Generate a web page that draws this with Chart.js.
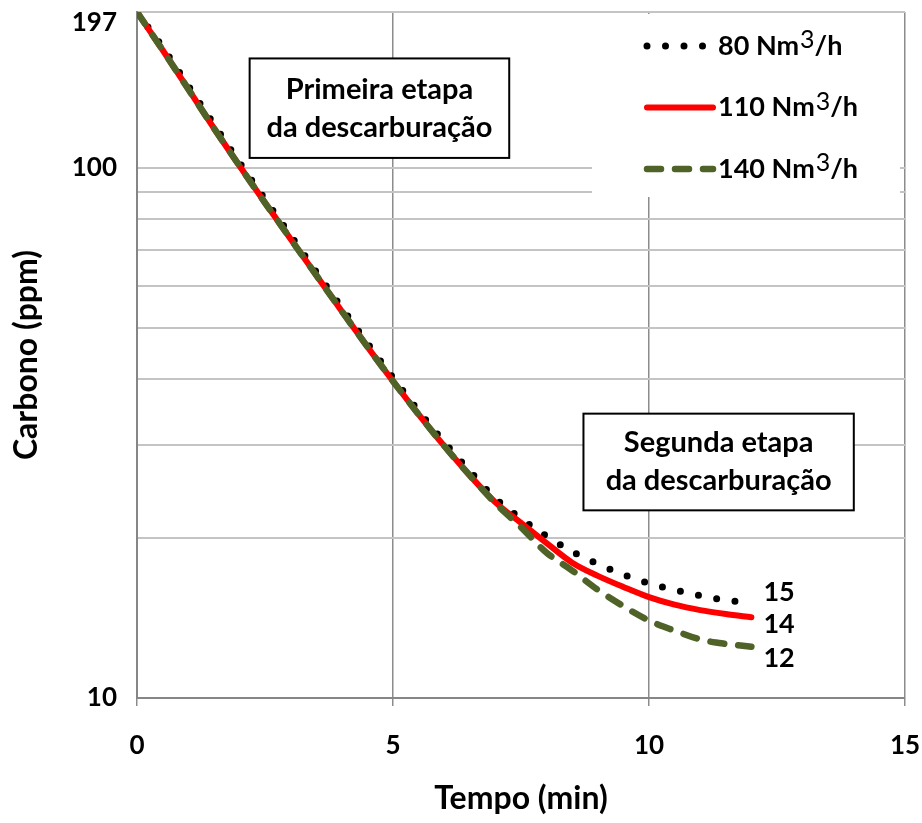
<!DOCTYPE html>
<html>
<head>
<meta charset="utf-8">
<script src="https://cdn.jsdelivr.net/npm/chart.js@4.4.1/dist/chart.umd.min.js"></script>
<style>
  html, body { margin: 0; padding: 0; background: #fff; }
  #wrap { width: 922px; height: 823px; position: relative; }
</style>
</head>
<body>
<div id="wrap"><canvas id="c"></canvas></div>
<script>
// time (min)
var TIME = [0, 0.5, 1, 1.5, 2, 2.5, 3, 3.5, 4, 4.5, 5, 5.5, 6, 6.5, 7, 7.5, 8, 8.5, 9, 9.5, 10, 10.5, 11, 11.5, 12]

// carbon (ppm) per gas flow
var C80  = [197, 169, 143, 121, 102.5, 87.3, 74.6, 63.7, 54.5, 46.7, 40.2, 34.8, 30.4, 26.8, 23.8, 21.8, 20.2, 18.9, 17.9, 17.1, 16.45, 16.0, 15.6, 15.3, 15.1]
var C110 = [197, 167, 141, 119, 101, 86, 73.5, 62.8, 53.7, 46, 39.6, 34.3, 29.9, 26.3, 23.4, 21.4, 19.6, 18.0, 17.0, 16.2, 15.5, 15.0, 14.65, 14.4, 14.2]
var C140 = [197, 167, 141, 119, 101, 86, 73.5, 62.8, 53.7, 46, 39.6, 34.3, 29.9, 26.3, 23.3, 21.0, 18.8, 17.4, 16.0, 14.9, 14.0, 13.4, 12.9, 12.65, 12.5]

var SERIES_NAMES = ["80", "110", "140"]
var END_LABELS   = ["15", "14", "12"]

var Y_TICKS  = [10, 20, 30, 40, 50, 60, 70, 80, 90, 100, 197]
var Y_LABELS = [10, 100, 197]
var X_TICKS  = [0, 5, 10, 15]

var NOTE_FIRST  = ["Primeira etapa", "da descarburação"]
var NOTE_SECOND = ["Segunda etapa", "da descarburação"]

var FONT = "Lato, 'Open Sans', sans-serif"

function points(ys) {
  return TIME.map(function(t, i) { return {x: t, y: ys[i]} })
}

var notes = {
  id: "notes",
  afterDraw: function(chart, args, opts) {
    var ctx = chart.ctx
      , xs  = chart.scales.x
      , ys  = chart.scales.y
      , ca  = chart.chartArea
    ctx.save()

    // boxed notes
    opts.boxes.forEach(function(b) {
      var l = xs.getPixelForValue(b.x0), r = xs.getPixelForValue(b.x1)
        , t = ys.getPixelForValue(b.y0), d = ys.getPixelForValue(b.y1)
      ctx.fillStyle = "#fff"
      ctx.fillRect(l, t, r - l, d - t)
      ctx.strokeStyle = "#000"
      ctx.lineWidth = 2
      ctx.strokeRect(l, t, r - l, d - t)
      ctx.fillStyle = "#000"
      ctx.font = "bold 29px " + FONT
      ctx.textAlign = "center"
      ctx.textBaseline = "middle"
      b.lines.forEach(function(s, i) {
        ctx.fillText(s, (l + r) / 2, (t + d) / 2 + (i - 0.5) * 38)
      })
    })

    // legend
    var lx = ca.right - 313, ly = ca.top + 2
    ctx.fillStyle = "#fff"
    ctx.fillRect(lx, ly, 308, 183)
    chart.data.datasets.forEach(function(ds, i) {
      var y = ly + 32 + i * 61.5
      ctx.save()
      ctx.strokeStyle = ds.borderColor
      ctx.lineWidth = ds.borderWidth
      ctx.lineCap = ds.borderCapStyle
      ctx.setLineDash(ds.borderDash || [])
      ctx.beginPath()
      ctx.moveTo(lx + 55, y)
      ctx.lineTo(lx + 121, y)
      ctx.stroke()
      ctx.restore()
      ctx.fillStyle = "#000"
      ctx.textAlign = "left"
      ctx.textBaseline = "middle"
      var x = lx + 126
      ctx.font = "bold 27px " + FONT
      var a = ds.label + " Nm"
      ctx.fillText(a, x, y)
      x += ctx.measureText(a).width
      ctx.font = "25px " + FONT
      ctx.fillText("3", x + 1, y - 6)
      x += ctx.measureText("3").width + 1
      ctx.font = "bold 27px " + FONT
      ctx.fillText("/h", x, y)
    })

    // end values
    ctx.font = "bold 27px " + FONT
    ctx.textAlign = "left"
    ctx.textBaseline = "middle"
    ctx.fillStyle = "#000"
    chart.data.datasets.forEach(function(ds, i) {
      var meta = chart.getDatasetMeta(i)
        , last = meta.data[meta.data.length - 1]
      ctx.fillText(END_LABELS[i], last.x + 12, last.y + opts.endDy[i])
    })
    ctx.restore()
  }
}

new Chart(document.getElementById("c"), {
  type: "line",
  data: {
    datasets: [
      { label: SERIES_NAMES[0], data: points(C80), borderColor: "#000000", borderWidth: 7
      , borderDash: [0, 18.5], borderCapStyle: "round", order: 3 },
      { label: SERIES_NAMES[1], data: points(C110), borderColor: "#ff0000", borderWidth: 6
      , borderCapStyle: "round", order: 2 },
      { label: SERIES_NAMES[2], data: points(C140), borderColor: "#4f6228", borderWidth: 6.5
      , borderDash: [14, 14], borderCapStyle: "round", order: 1 }
    ]
  },
  options: {
    responsive: true,
    maintainAspectRatio: false,
    animation: false,
    layout: { padding: { top: 12, right: 17, left: 0, bottom: 0 } },
    elements: {
      point: { radius: 0 },
      line: { cubicInterpolationMode: "monotone", fill: false }
    },
    plugins: {
      legend: { display: false },
      tooltip: { enabled: false },
      notes: {
        boxes: [
          { x0: 2.2, x1: 7.27, y0: 161, y1: 104.5, lines: NOTE_FIRST },
          { x0: 8.72, x1: 14.0, y0: 34.4, y1: 22.6, lines: NOTE_SECOND }
        ],
        endDy: [-11, 7, 12]
      }
    },
    scales: {
      x: {
        type: "linear",
        min: 0, max: 15,
        afterBuildTicks: function(s) { s.ticks = X_TICKS.map(function(v) { return {value: v} }) },
        afterFit: function(s) { s.height = 125; s.paddingLeft = 0; s.paddingRight = 0 },
        grid: { color: "#8c8c8c", lineWidth: 1.5, tickLength: 8 },
        border: { color: "#868686", width: 2 },
        ticks: { color: "#000", padding: 24, font: { family: FONT, size: 26, weight: "bold" } },
        title: {
          display: true, text: "Tempo (min)", color: "#000",
          padding: { top: 0, bottom: 5 },
          font: { family: FONT, size: 32, weight: "bold" }
        }
      },
      y: {
        type: "logarithmic",
        min: 10, max: 197,
        afterBuildTicks: function(s) { s.ticks = Y_TICKS.map(function(v) { return {value: v} }) },
        afterFit: function(s) { s.width = 137; s.paddingTop = 0; s.paddingBottom = 0 },
        grid: { color: "#c4c4c4", lineWidth: 2, drawTicks: false },
        border: { color: "#868686", width: 2 },
        ticks: {
          color: "#000", padding: 20, autoSkip: false,
          font: { family: FONT, size: 26, weight: "bold", lineHeight: 0.8 },
          callback: function(v) {
            if (Y_LABELS.indexOf(v) < 0) return ""
            return v === 197 ? ["", "197"] : String(v)
          }
        },
        title: {
          display: true, text: "Carbono (ppm)", color: "#000",
          padding: { top: 7, bottom: 0 },
          font: { family: FONT, size: 32, weight: "bold" }
        }
      }
    }
  },
  plugins: [notes]
})
</script>
</body>
</html>
